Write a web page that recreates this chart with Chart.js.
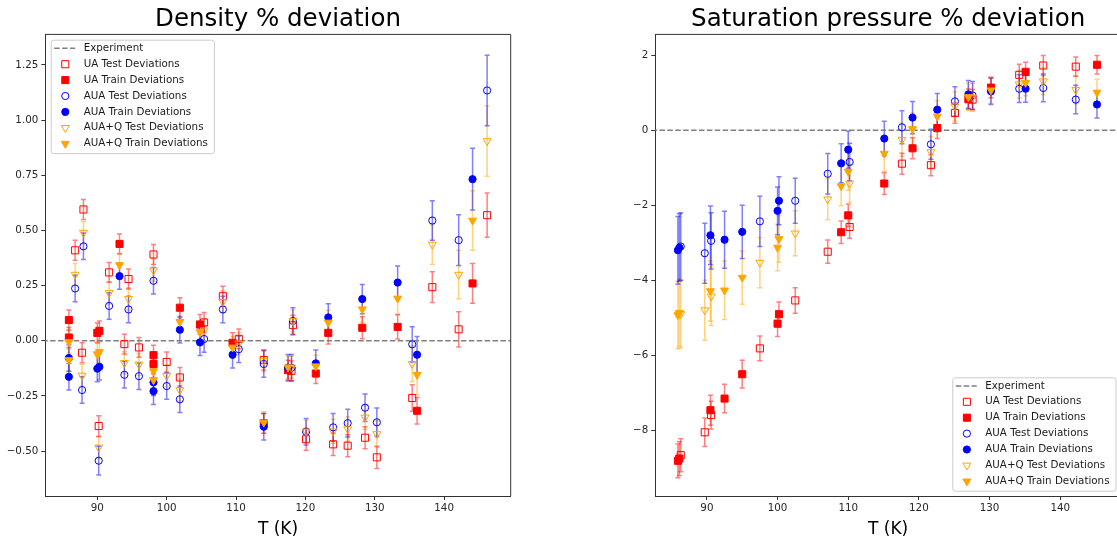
<!DOCTYPE html>
<html>
<head>
<meta charset="utf-8">
<title>Density and saturation pressure % deviation</title>
<script src="https://cdn.jsdelivr.net/npm/chart.js"></script>
<style>
html, body { margin: 0; padding: 0; background: #fff; overflow: hidden; }
body { width: 1117px; height: 542px; position: relative; }
.panel { position: absolute; top: 0; height: 542px; }
#left { left: 0; width: 560px; }
#right { left: 560px; width: 570px; }
</style>
</head>
<body>
<div class="panel" id="left"><canvas id="densityChart"></canvas></div>
<div class="panel" id="right"><canvas id="pressureChart"></canvas></div>
<script>
// ---- data ----
const tTicks = [90, 100, 110, 120, 130, 140];
const rhoTicks = [-0.5, -0.25, 0, 0.25, 0.5, 0.75, 1.0, 1.25];
const psatTicks = [-8, -6, -4, -2, 0, 2];

// density, test points
const rhoTestT = [86.8, 87.8, 88.0, 90.2, 91.7, 93.9, 94.5, 96.0, 98.1, 100.0, 101.9, 105.4, 108.1, 110.4, 114.0, 118.2, 118.0, 120.1, 124.0, 126.1, 128.6, 130.3, 135.4, 138.3, 142.1, 146.2];
const rhoUATest = [0.41, -0.054, 0.595, -0.386, 0.31, -0.015, 0.28, -0.03, 0.391, -0.096, -0.166, 0.083, 0.202, 0.009, -0.087, 0.071, -0.136, -0.446, -0.469, -0.475, -0.439, -0.528, -0.259, 0.243, 0.052, 0.569];
const rhoUATestErr = [0.045, 0.045, 0.045, 0.047, 0.045, 0.045, 0.045, 0.045, 0.045, 0.045, 0.045, 0.045, 0.045, 0.045, 0.045, 0.045, 0.045, 0.05, 0.05, 0.05, 0.05, 0.05, 0.06, 0.07, 0.08, 0.10];
const rhoAUATest = [0.237, -0.223, 0.428, -0.543, 0.158, -0.154, 0.142, -0.16, 0.272, -0.205, -0.265, 0.008, 0.142, -0.038, -0.105, 0.09, -0.122, -0.412, -0.392, -0.373, -0.303, -0.369, -0.016, 0.545, 0.456, 1.134];
const rhoAUATestErr = [0.06, 0.06, 0.06, 0.065, 0.06, 0.06, 0.06, 0.06, 0.06, 0.06, 0.06, 0.06, 0.06, 0.06, 0.06, 0.06, 0.06, 0.06, 0.063, 0.063, 0.062, 0.065, 0.08, 0.09, 0.115, 0.16];
const rhoQTest = [0.30, -0.157, 0.49, -0.483, 0.217, -0.10, 0.19, -0.107, 0.32, -0.158, -0.223, 0.048, 0.177, -0.012, -0.09, 0.09, -0.12, -0.41, -0.41, -0.40, -0.347, -0.422, -0.104, 0.436, 0.30, 0.905];
const rhoQTestErr = [0.05, 0.05, 0.05, 0.05, 0.05, 0.05, 0.05, 0.05, 0.05, 0.05, 0.05, 0.05, 0.05, 0.05, 0.05, 0.05, 0.05, 0.05, 0.055, 0.055, 0.055, 0.06, 0.08, 0.09, 0.11, 0.16];

// density, train points
const rhoTrainT = [85.9, 85.9, 90.0, 90.3, 93.2, 98.1, 98.1, 101.9, 104.8, 109.5, 114.0, 117.5, 121.5, 123.3, 128.2, 133.3, 136.1, 144.1];
const rhoUATrain = [0.094, 0.015, 0.036, 0.045, 0.439, -0.065, -0.105, 0.15, 0.074, -0.009, -0.374, -0.133, -0.148, 0.036, 0.059, 0.063, -0.317, 0.26];
const rhoUATrainErr = [0.045, 0.045, 0.045, 0.045, 0.045, 0.045, 0.045, 0.045, 0.045, 0.045, 0.045, 0.045, 0.045, 0.05, 0.05, 0.055, 0.06, 0.09];
const rhoAUATrain = [-0.078, -0.163, -0.126, -0.118, 0.293, -0.188, -0.228, 0.05, -0.007, -0.063, -0.389, -0.122, -0.102, 0.106, 0.189, 0.264, -0.063, 0.732];
const rhoAUATrainErr = [0.06, 0.06, 0.06, 0.06, 0.06, 0.06, 0.06, 0.06, 0.06, 0.06, 0.06, 0.06, 0.06, 0.062, 0.066, 0.075, 0.083, 0.14];
const rhoQTrain = [-0.005, -0.087, -0.06, -0.05, 0.343, -0.137, -0.178, 0.086, 0.04, -0.03, -0.37, -0.12, -0.115, 0.083, 0.143, 0.192, -0.154, 0.545];
const rhoQTrainErr = [0.05, 0.05, 0.05, 0.05, 0.05, 0.05, 0.05, 0.05, 0.05, 0.05, 0.05, 0.05, 0.05, 0.055, 0.06, 0.07, 0.09, 0.135];

// saturation pressure, test points
const psTestT = [86.3, 89.7, 90.6, 97.5, 102.5, 107.1, 110.2, 117.6, 121.7, 125.1, 127.6, 134.2, 137.6, 142.2];
const psUATest = [-8.67, -8.06, -7.6, -5.82, -4.54, -3.24, -2.58, -0.89, -0.93, 0.46, 0.82, 1.48, 1.73, 1.70];
const psUATestErr = [0.44, 0.38, 0.37, 0.33, 0.34, 0.31, 0.3, 0.28, 0.28, 0.27, 0.27, 0.28, 0.27, 0.26];
const psAUATest = [-3.1, -3.28, -2.95, -2.43, -1.88, -1.16, -0.845, 0.08, -0.373, 0.773, 0.93, 1.11, 1.13, 0.82];
const psAUATestErr = [0.9, 0.8, 0.75, 0.67, 0.6, 0.54, 0.5, 0.44, 0.4, 0.39, 0.37, 0.37, 0.37, 0.38];
const psQTest = [-4.9, -4.8, -4.43, -3.53, -2.75, -1.84, -1.42, -0.25, -0.58, 0.64, 0.88, 1.23, 1.31, 1.08];
const psQTestErr = [0.9, 0.8, 0.78, 0.67, 0.6, 0.55, 0.5, 0.44, 0.42, 0.39, 0.37, 0.37, 0.36, 0.37];

// saturation pressure, train points
const psTrainT = [85.9, 86.1, 90.5, 92.5, 95.0, 100.0, 100.2, 109.0, 110.0, 115.1, 119.1, 122.6, 127.0, 130.2, 135.1, 145.2];
const psUATrain = [-8.82, -8.76, -7.47, -7.16, -6.51, -5.16, -4.91, -2.72, -2.27, -1.42, -0.48, 0.06, 0.83, 1.14, 1.56, 1.75];
const psUATrainErr = [0.45, 0.45, 0.4, 0.38, 0.37, 0.34, 0.33, 0.3, 0.3, 0.29, 0.28, 0.28, 0.27, 0.27, 0.26, 0.25];
const psAUATrain = [-3.2, -3.13, -2.8, -2.92, -2.71, -2.15, -1.88, -0.88, -0.515, -0.22, 0.34, 0.55, 0.96, 1.04, 1.11, 0.69];
const psAUATrainErr = [0.9, 0.9, 0.78, 0.76, 0.71, 0.64, 0.64, 0.52, 0.5, 0.46, 0.43, 0.43, 0.37, 0.35, 0.36, 0.36];
const psQTrain = [-4.93, -4.87, -4.29, -4.27, -3.93, -3.13, -2.9, -1.49, -1.1, -0.62, 0.035, 0.373, 0.89, 1.07, 1.27, 1.01];
const psQTrainErr = [0.9, 0.9, 0.8, 0.78, 0.71, 0.62, 0.62, 0.52, 0.5, 0.47, 0.43, 0.42, 0.37, 0.35, 0.35, 0.35];

// axis limits
const rhoXLim = [82.5, 149.6], rhoYLim = [-0.703, 1.388];
const psXLim = [82.7, 148.6], psYLim = [-9.76, 2.56];

// ---- styling ----
Chart.defaults.font.family = "'DejaVu Sans', sans-serif";
Chart.defaults.color = '#262626';

const RED = '#ff0000', BLUE = '#0000ff', ORANGE = '#ffa500';
const ERR = { [RED]: 'rgba(255,0,0,0.5)', [BLUE]: 'rgba(0,0,255,0.5)', [ORANGE]: 'rgba(255,165,0,0.5)' };

function pts(T, v) { return T.map((t, i) => ({ x: t, y: v[i] })); }

function series(label, T, v, err, color, shape, filled, idx) {
  const radius = shape === 'rect' ? 5 : shape === 'circle' ? 3.6 : 4.6;
  return {
    label, data: pts(T, v), errors: err, errColor: ERR[color],
    pointStyle: shape, pointRadius: radius, pointRotation: shape === 'triangle' ? 180 : 0,
    borderColor: color, backgroundColor: filled ? color : 'rgba(0,0,0,0)',
    pointBorderWidth: 1, order: 10 - idx
  };
}

function expLine(xLim) {
  return {
    label: 'Experiment', data: [{ x: xLim[0] - 5, y: 0 }, { x: xLim[1] + 5, y: 0 }],
    showLine: true, pointRadius: 0, borderColor: '#808080', borderWidth: 1.5,
    borderDash: [5.5, 2.4], order: 20
  };
}

const errorBars = {
  id: 'errorBars',
  beforeDatasetsDraw(chart) {
    const { ctx, chartArea: a, scales: { x, y } } = chart;
    ctx.save();
    ctx.beginPath(); ctx.rect(a.left, a.top, a.width, a.height); ctx.clip();
    ctx.lineWidth = 1.5;
    chart.data.datasets.slice().reverse().forEach(ds => {
      if (!ds.errors) return;
      ctx.strokeStyle = ds.errColor;
      ds.data.forEach((p, i) => {
        const px = x.getPixelForValue(p.x);
        const y1 = y.getPixelForValue(p.y - ds.errors[i]);
        const y2 = y.getPixelForValue(p.y + ds.errors[i]);
        ctx.beginPath();
        ctx.moveTo(px, y1); ctx.lineTo(px, y2);
        ctx.moveTo(px - 2.5, y1); ctx.lineTo(px + 2.5, y1);
        ctx.moveTo(px - 2.5, y2); ctx.lineTo(px + 2.5, y2);
        ctx.stroke();
      });
    });
    ctx.restore();
  }
};

const frame = {
  id: 'frame',
  afterDatasetsDraw(chart) {
    const { ctx, chartArea: a } = chart;
    ctx.save();
    ctx.strokeStyle = '#333'; ctx.lineWidth = 1;
    ctx.beginPath();
    ctx.moveTo(a.left, a.top); ctx.lineTo(a.right, a.top); ctx.lineTo(a.right, a.bottom);
    ctx.stroke();
    ctx.restore();
  }
};

function marker(ctx, ds, x, y) {
  const r = ds.pointRadius;
  ctx.beginPath();
  if (ds.pointStyle === 'rect') {
    const s = r * Math.SQRT1_2; ctx.rect(x - s, y - s, 2 * s, 2 * s);
  } else if (ds.pointStyle === 'circle') {
    ctx.arc(x, y, r, 0, Math.PI * 2);
  } else {
    const h = r * Math.sqrt(3) / 2;
    ctx.moveTo(x, y + r); ctx.lineTo(x - h, y - r / 2); ctx.lineTo(x + h, y - r / 2); ctx.closePath();
  }
  ctx.fillStyle = ds.backgroundColor; ctx.fill();
  ctx.strokeStyle = ds.borderColor; ctx.lineWidth = 1; ctx.stroke();
}

const boxLegend = {
  id: 'boxLegend',
  afterDraw(chart, args, opts) {
    const { ctx, chartArea: a } = chart;
    const items = chart.data.datasets.slice();
    items.sort((p, q) => (p.label === 'Experiment' ? -1 : 0) - (q.label === 'Experiment' ? -1 : 0));
    ctx.save();
    ctx.font = "10.3px 'DejaVu Sans'";
    const tw = Math.max(...items.map(d => ctx.measureText(d.label).width));
    const w = 33 + tw + 6, h = 113.4, row = 15.9;
    const left = opts.corner === 'tl' ? a.left + 5.4 : a.right - 5.5 - w;
    const top = opts.corner === 'tl' ? a.top + 5.3 : a.bottom - 5.3 - h;
    ctx.fillStyle = 'rgba(255,255,255,0.8)'; ctx.strokeStyle = '#cccccc'; ctx.lineWidth = 1;
    ctx.beginPath();
    ctx.roundRect(left + 0.5, top + 0.5, w, h, 2.5);
    ctx.fill(); ctx.stroke();
    items.forEach((d, i) => {
      const cy = top + 8.6 + i * row;
      if (d.label === 'Experiment') {
        ctx.save();
        ctx.strokeStyle = d.borderColor; ctx.lineWidth = 1.5; ctx.setLineDash(d.borderDash);
        ctx.beginPath(); ctx.moveTo(left + 3.5, cy); ctx.lineTo(left + 24.5, cy); ctx.stroke();
        ctx.restore();
      } else {
        marker(ctx, d, left + 14.6, cy);
      }
      ctx.fillStyle = '#1a1a1a'; ctx.textBaseline = 'middle'; ctx.textAlign = 'left';
      ctx.fillText(d.label, left + 33, cy);
    });
    ctx.restore();
  }
};

function makeChart(id, title, xLim, yLim, yTicks, yFmt, yWidth, padRight, sets, corner) {
  return new Chart(document.getElementById(id), {
    type: 'scatter',
    data: { datasets: sets },
    plugins: [errorBars, frame, boxLegend],
    options: {
      responsive: true, maintainAspectRatio: false, animation: false, events: [],
      layout: { padding: { left: 0, right: padRight, top: 0, bottom: 0 } },
      scales: {
        x: {
          type: 'linear', min: xLim[0], max: xLim[1],
          afterBuildTicks: s => { s.ticks = tTicks.map(v => ({ value: v })); },
          afterFit: s => { s.height = 46; },
          grid: { drawOnChartArea: false, tickLength: 4, color: '#333' },
          border: { color: '#333', width: 1 },
          ticks: { font: { size: 10.3 }, color: '#262626', padding: 2, maxRotation: 0, autoSkip: false, callback: v => String(v) },
          title: { display: true, text: 'T (K)', font: { size: 17 }, color: '#000', padding: { top: 0, bottom: 2 } }
        },
        y: {
          type: 'linear', min: yLim[0], max: yLim[1],
          afterBuildTicks: s => { s.ticks = yTicks.map(v => ({ value: v })); },
          afterFit: s => { s.width = yWidth; },
          grid: { drawOnChartArea: false, tickLength: 4, color: '#333' },
          border: { color: '#333', width: 1 },
          ticks: { font: { size: 10.3 }, color: '#262626', padding: 3, autoSkip: false, callback: yFmt }
        }
      },
      plugins: {
        legend: { display: false },
        tooltip: { enabled: false },
        title: { display: true, text: title, fullSize: false, font: { size: 24.5, weight: 'normal' }, color: '#000', padding: { top: 5, bottom: 0 } },
        boxLegend: { corner }
      }
    }
  });
}

function sets(xLim, T1, T2, d) {
  return [
    expLine(xLim),
    series('UA Test Deviations', T1, d[0], d[1], RED, 'rect', false, 1),
    series('UA Train Deviations', T2, d[2], d[3], RED, 'rect', true, 2),
    series('AUA Test Deviations', T1, d[4], d[5], BLUE, 'circle', false, 3),
    series('AUA Train Deviations', T2, d[6], d[7], BLUE, 'circle', true, 4),
    series('AUA+Q Test Deviations', T1, d[8], d[9], ORANGE, 'triangle', false, 5),
    series('AUA+Q Train Deviations', T2, d[10], d[11], ORANGE, 'triangle', true, 6)
  ];
}

const minus = s => s.replace('-', '\u2212');

makeChart('densityChart', 'Density % deviation', rhoXLim, rhoYLim, rhoTicks,
  v => minus(v.toFixed(2)), 45.3, 49.3,
  sets(rhoXLim, rhoTestT, rhoTrainT, [rhoUATest, rhoUATestErr, rhoUATrain, rhoUATrainErr,
    rhoAUATest, rhoAUATestErr, rhoAUATrain, rhoAUATrainErr, rhoQTest, rhoQTestErr, rhoQTrain, rhoQTrainErr]), 'tl');

makeChart('pressureChart', 'Saturation pressure % deviation', psXLim, psYLim, psatTicks,
  v => minus(String(v)), 95.3, 9,
  sets(psXLim, psTestT, psTrainT, [psUATest, psUATestErr, psUATrain, psUATrainErr,
    psAUATest, psAUATestErr, psAUATrain, psAUATrainErr, psQTest, psQTestErr, psQTrain, psQTrainErr]), 'br');
</script>
</body>
</html>
